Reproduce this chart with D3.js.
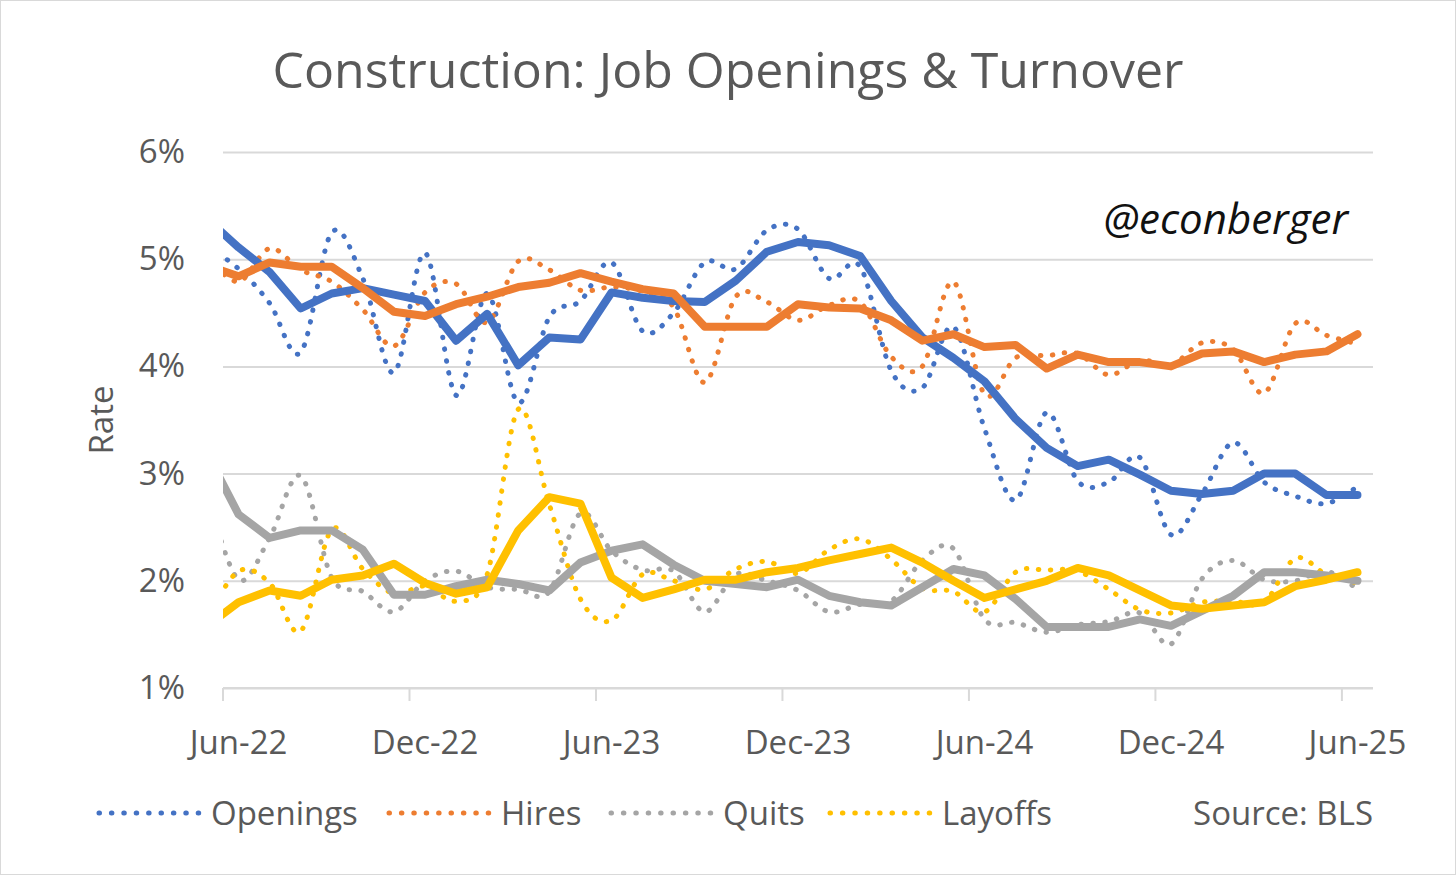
<!DOCTYPE html>
<html>
<head>
<meta charset="utf-8">
<title>Construction: Job Openings & Turnover</title>
<script src="https://cdn.jsdelivr.net/npm/d3@7"></script>
<style>
	body { margin: 0; background: #fff; }
	svg { display: block; }
	text { font-family: "Open Sans", "Noto Sans", sans-serif; fill: #595959; }
</style>
</head>
<body>
<script>
// Meses (May-22 solo se ve recortado en el borde izquierdo)
var months = ['May-22', 'Jun-22', 'Jul-22', 'Aug-22', 'Sep-22', 'Oct-22', 'Nov-22', 'Dec-22',
	'Jan-23', 'Feb-23', 'Mar-23', 'Apr-23', 'May-23', 'Jun-23', 'Jul-23', 'Aug-23', 'Sep-23',
	'Oct-23', 'Nov-23', 'Dec-23', 'Jan-24', 'Feb-24', 'Mar-24', 'Apr-24', 'May-24', 'Jun-24',
	'Jul-24', 'Aug-24', 'Sep-24', 'Oct-24', 'Nov-24', 'Dec-24', 'Jan-25', 'Feb-25', 'Mar-25',
	'Apr-25', 'May-25', 'Jun-25'];

var xTickLabels = ['Jun-22', 'Dec-22', 'Jun-23', 'Dec-23', 'Jun-24', 'Dec-24', 'Jun-25'];
var yTicks = [1, 2, 3, 4, 5, 6];

// Valores mensuales (lineas punteadas)
var openings = [5.12, 4.91, 4.59, 4.13, 5.25, 4.82, 3.94, 5.06, 3.73, 4.68, 3.66, 4.46, 4.61,
	4.97, 4.33, 4.50, 4.97, 4.91, 5.27, 5.28, 4.82, 4.93, 3.96, 3.80, 4.37, 3.42, 2.75, 3.57,
	2.93, 2.92, 3.15, 2.43, 2.81, 3.29, 2.92, 2.79, 2.72, 2.88];
var hires = [5.02, 4.79, 5.10, 4.90, 4.79, 4.53, 4.19, 4.69, 4.77, 4.41, 4.98, 4.90, 4.71,
	4.74, 4.70, 4.55, 3.85, 4.65, 4.60, 4.43, 4.57, 4.60, 4.09, 4.00, 4.79, 3.74, 4.08, 4.10,
	4.12, 3.92, 4.06, 4.01, 4.22, 4.16, 3.75, 4.40, 4.29, 4.21];
var quits = [2.80, 2.01, 2.40, 2.98, 2.03, 1.90, 1.71, 2.00, 2.09, 1.94, 1.92, 1.90, 2.63,
	2.28, 2.10, 2.09, 1.71, 2.06, 2.00, 1.91, 1.71, 1.78, 1.81, 2.19, 2.30, 1.64, 1.61, 1.52,
	1.59, 1.62, 1.70, 1.41, 2.02, 2.19, 2.01, 2.00, 2.09, 1.92];
var layoffs = [1.66, 2.09, 1.98, 1.53, 2.48, 2.11, 1.88, 1.95, 1.81, 2.06, 3.60, 2.71, 1.83,
	1.63, 2.06, 2.00, 1.92, 2.11, 2.18, 2.07, 2.29, 2.39, 2.20, 1.93, 1.90, 1.71, 2.08, 2.10,
	2.09, 1.92, 1.73, 1.70, 1.80, 1.81, 1.80, 2.21, 2.06, 1.98];

// Promedios de 3 meses (lineas gruesas)
var openingsAvg = [5.37, 5.11, 4.88, 4.54, 4.68, 4.73, 4.67, 4.61, 4.24, 4.49, 4.01, 4.27, 4.25,
	4.69, 4.64, 4.61, 4.60, 4.80, 5.07, 5.16, 5.13, 5.03, 4.61, 4.27, 4.08, 3.86, 3.51, 3.24,
	3.07, 3.13, 2.99, 2.84, 2.81, 2.84, 3.00, 3.00, 2.80, 2.80];
var hiresAvg = [4.94, 4.84, 4.97, 4.93, 4.93, 4.73, 4.51, 4.47, 4.58, 4.65, 4.74, 4.78, 4.87,
	4.79, 4.72, 4.68, 4.37, 4.37, 4.37, 4.58, 4.55, 4.54, 4.43, 4.24, 4.30, 4.18, 4.20, 3.98,
	4.11, 4.04, 4.04, 4.00, 4.12, 4.14, 4.04, 4.11, 4.14, 4.30];
var quitsAvg = [3.18, 2.62, 2.40, 2.47, 2.47, 2.29, 1.87, 1.87, 1.95, 2.01, 1.97, 1.91, 2.17,
	2.28, 2.34, 2.15, 2.00, 1.97, 1.94, 2.01, 1.86, 1.80, 1.77, 1.94, 2.11, 2.05, 1.83, 1.57,
	1.57, 1.57, 1.64, 1.58, 1.72, 1.86, 2.08, 2.08, 2.05, 2.00];
var layoffsAvg = [1.58, 1.80, 1.91, 1.86, 2.01, 2.05, 2.16, 1.98, 1.88, 1.94, 2.47, 2.78, 2.72,
	2.03, 1.84, 1.92, 2.01, 2.01, 2.08, 2.12, 2.19, 2.25, 2.31, 2.17, 2.00, 1.84, 1.92, 2.00,
	2.12, 2.05, 1.91, 1.77, 1.74, 1.77, 1.80, 1.95, 2.01, 2.08];

var series = [
	{ name: 'Openings', color: '#4472C4', monthly: openings, avg: openingsAvg },
	{ name: 'Hires', color: '#ED7D31', monthly: hires, avg: hiresAvg },
	{ name: 'Quits', color: '#A5A5A5', monthly: quits, avg: quitsAvg },
	{ name: 'Layoffs', color: '#FFC000', monthly: layoffs, avg: layoffsAvg }
];

var width = 1456, height = 875;
var plot = { left: 223, right: 1373, top: 152, bottom: 688 };

var svg = d3.select('body').append('svg')
	.attr('width', width)
	.attr('height', height);

// marco
svg.append('rect')
	.attr('x', 0.5).attr('y', 0.5)
	.attr('width', width - 1).attr('height', height - 1)
	.attr('fill', '#fff')
	.attr('stroke', '#d9d9d9');

// escalas: indice 0 = Jun-22, cada mes es una banda
var x = d3.scaleLinear()
	.domain([-0.5, months.length - 1.5])
	.range([plot.left, plot.right]);

var y = d3.scaleLinear()
	.domain([1, 6])
	.range([plot.bottom, plot.top]);

// Titulo
svg.append('text')
	.attr('x', 728).attr('y', 88)
	.attr('text-anchor', 'middle')
	.style('font-size', '50px')
	.text('Construction: Job Openings & Turnover');

// lineas de la grilla
var yAxis = d3.axisLeft(y)
	.tickValues(yTicks)
	.tickSize(-(plot.right - plot.left))
	.tickPadding(38)
	.tickFormat(function(d) { return d + '%'; });

var gy = svg.append('g')
	.attr('transform', 'translate(' + plot.left + ',0)')
	.call(yAxis);
gy.select('.domain').remove();
gy.selectAll('.tick line')
	.attr('stroke', '#d9d9d9')
	.attr('stroke-width', 2);
gy.selectAll('.tick text')
	.style('font-size', '33px')
	.attr('fill', '#595959');

// eje x: marcas entre meses, etiquetas en el centro del mes
var tickIdx = [];
for (var i = 0; i < xTickLabels.length; i++) tickIdx.push(i * 6);

var gx = svg.append('g')
	.attr('transform', 'translate(0,' + plot.bottom + ')');

gx.append('line')
	.attr('x1', plot.left).attr('x2', plot.right)
	.attr('stroke', '#d9d9d9')
	.attr('stroke-width', 2);

gx.selectAll('.xtick')
	.data(tickIdx)
	.enter().append('line')
	.attr('class', 'xtick')
	.attr('x1', function(d) { return x(d - 0.5); })
	.attr('x2', function(d) { return x(d - 0.5); })
	.attr('y1', 0).attr('y2', 13)
	.attr('stroke', '#d9d9d9')
	.attr('stroke-width', 2);

gx.selectAll('.xlabel')
	.data(tickIdx)
	.enter().append('text')
	.attr('class', 'xlabel')
	.attr('x', function(d) { return x(d); })
	.attr('y', 66)
	.attr('text-anchor', 'middle')
	.style('font-size', '33px')
	.text(function(d, i) { return xTickLabels[i]; });

// Titulo del eje y
svg.append('text')
	.attr('transform', 'translate(113,420) rotate(-90)')
	.attr('text-anchor', 'middle')
	.style('font-size', '33px')
	.text('Rate');

// Marca de agua
svg.append('text')
	.attr('x', 1348).attr('y', 234)
	.attr('text-anchor', 'end')
	.style('font-size', '42px')
	.style('font-style', 'italic')
	.style('fill', '#111')
	.text('@econberger');

// recorte del area del grafico
svg.append('clipPath')
	.attr('id', 'plotClip')
	.append('rect')
	.attr('x', plot.left).attr('y', 0)
	.attr('width', plot.right - plot.left + 20)
	.attr('height', plot.bottom + 20);

var gLines = svg.append('g').attr('clip-path', 'url(#plotClip)');

var smooth = d3.line()
	.x(function(d, i) { return x(i - 1); })
	.y(function(d) { return y(d); })
	.curve(d3.curveCardinal.tension(0));

var straight = d3.line()
	.x(function(d, i) { return x(i - 1); })
	.y(function(d) { return y(d); });

// lineas punteadas (mensual)
gLines.selectAll('.monthly')
	.data(series)
	.enter().append('path')
	.attr('class', 'monthly')
	.attr('d', function(d) { return smooth(d.monthly); })
	.attr('fill', 'none')
	.attr('stroke', function(d) { return d.color; })
	.attr('stroke-width', 5)
	.attr('stroke-linecap', 'round')
	.attr('stroke-dasharray', '0.5 11.5');

// lineas gruesas (promedio)
gLines.selectAll('.avg')
	.data(series)
	.enter().append('path')
	.attr('class', 'avg')
	.attr('d', function(d) { return straight(d.avg); })
	.attr('fill', 'none')
	.attr('stroke', function(d) { return d.color; })
	.attr('stroke-width', 8)
	.attr('stroke-linejoin', 'round')
	.attr('stroke-linecap', 'round');

// Leyenda
var legendX = [97, 387, 609, 828];
var legend = svg.selectAll('.legend')
	.data(series)
	.enter().append('g')
	.attr('class', 'legend')
	.attr('transform', function(d, i) { return 'translate(' + legendX[i] + ',813)'; });

legend.append('line')
	.attr('x1', 2).attr('x2', 102)
	.attr('stroke', function(d) { return d.color; })
	.attr('stroke-width', 5)
	.attr('stroke-linecap', 'round')
	.attr('stroke-dasharray', '0.5 11.9');

legend.append('text')
	.attr('x', 114).attr('y', 12)
	.style('font-size', '33px')
	.text(function(d) { return d.name; });

svg.append('text')
	.attr('x', 1373).attr('y', 825)
	.attr('text-anchor', 'end')
	.style('font-size', '33px')
	.text('Source: BLS');
</script>
</body>
</html>
